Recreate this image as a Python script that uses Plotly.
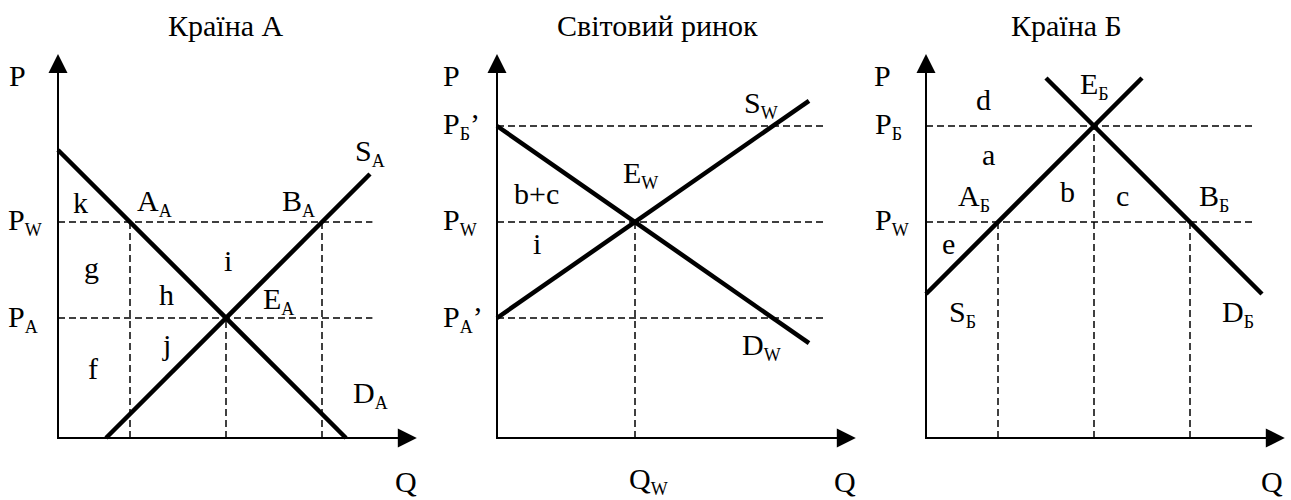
import plotly.graph_objects as go

# ---- дані (умовні одиниці Q / P) ----
# Країна А
a_demand_q = [0, 12]
a_demand_p = [12, 0]
a_supply_q = [2, 13]
a_supply_p = [0, 11]
a_price_levels = [9, 5]        # Pw, PA
a_price_end = 13.1
a_qty_marks = [3, 7, 11]       # AA, EA, BA
a_qty_tops = [9, 5, 9]

# Світовий ринок
w_demand_q = [0, 13]
w_demand_p = [13, 3.95]
w_supply_q = [0, 13]
w_supply_p = [5, 14.05]
w_price_levels = [13, 9, 5]    # PБ', Pw, PA'
w_price_end = 13.7
w_qty_marks = [5.75]           # Qw
w_qty_tops = [9]

# Країна Б
b_supply_q = [0, 9]
b_supply_p = [6, 15]
b_demand_q = [5, 14]
b_demand_p = [15, 6]
b_price_levels = [13, 9]       # PБ, Pw
b_price_end = 13.7
b_qty_marks = [3, 7, 11]
b_qty_tops = [9, 13, 9]

titles = ["Країна А", "Світовий ринок", "Країна Б"]


def s(t):  # нижній індекс
    return "<sub><span style='font-size:18px'>" + t + "</span></sub>"


# підписи: текст, Q, P
a_labels = [("P", -1.7, 15.1), ("k", 0.92, 9.8), ("A" + s("A"), 4.0, 9.8),
            ("B" + s("A"), 10.0, 9.8), ("S" + s("A"), 13.0, 11.9),
            ("g", 1.4, 7.1), ("i", 7.1, 7.4), ("h", 4.5, 6.0),
            ("E" + s("A"), 9.2, 5.75), ("j", 4.5, 3.9), ("f", 1.46, 2.9),
            ("D" + s("A"), 13.0, 1.8), ("Q", 14.5, -1.8)]
a_axis_labels = [("P" + s("W"), 9), ("P" + s("A"), 5)]

w_labels = [("P", -1.9, 15.1), ("S" + s("W"), 11.0, 13.9), ("E" + s("W"), 5.96, 10.96),
            ("b+c", 1.63, 10.2), ("i", 1.67, 8.1), ("D" + s("W"), 11.0, 3.83),
            ("Q" + s("W"), 6.3, -1.75), ("Q", 14.5, -1.8)]
w_axis_labels = [("P" + s("Б") + "’", 13), ("P" + s("W"), 9), ("P" + s("A") + "’", 5)]

b_labels = [("P", -1.8, 15.1), ("d", 2.4, 14.1), ("E" + s("Б"), 7.0, 14.7),
            ("a", 2.6, 11.8), ("A" + s("Б"), 2.0, 10.0), ("b", 5.9, 10.25),
            ("c", 8.2, 10.1), ("B" + s("Б"), 12.0, 10.0), ("e", 0.92, 8.1),
            ("S" + s("Б"), 1.5, 5.2), ("D" + s("Б"), 13.0, 5.2), ("Q", 14.4, -1.8)]
b_axis_labels = [("P" + s("Б"), 13), ("P" + s("W"), 9)]

# ---- розміщення ----
W, H = 1291, 500
UNIT = 24                      # пікселів на одиницю
ORIGIN_Y = 438
origins_x = [58, 497, 926]
label_left = [6, 441, 873]     # лівий край підписів на осі P
title_x = [226, 657, 1066]
XR = [-2.4, 15.1]
YR = [-2.5, 16.5]
FONT = "Liberation Serif"
FS = 30

fig = go.Figure()

panels = [
    (a_demand_q, a_demand_p, a_supply_q, a_supply_p, a_price_levels, a_price_end,
     a_qty_marks, a_qty_tops, a_labels, a_axis_labels),
    (w_demand_q, w_demand_p, w_supply_q, w_supply_p, w_price_levels, w_price_end,
     w_qty_marks, w_qty_tops, w_labels, w_axis_labels),
    (b_demand_q, b_demand_p, b_supply_q, b_supply_p, b_price_levels, b_price_end,
     b_qty_marks, b_qty_tops, b_labels, b_axis_labels),
]

dash_line = dict(color="black", width=1.5, dash="7px,4px")
thick = dict(color="black", width=4.5)
axis_line = dict(color="black", width=2)

for i, (dq, dp, sq, sp, levels, pend, qm, qt, labels, axlabels) in enumerate(panels):
    n = i + 1
    xa = "x" if n == 1 else "x%d" % n
    ya = "y" if n == 1 else "y%d" % n

    # пунктир
    for lv in levels:
        fig.add_trace(go.Scatter(x=[0, pend], y=[lv, lv], mode="lines", line=dash_line,
                                 xaxis=xa, yaxis=ya, hoverinfo="skip", showlegend=False))
    for q, top in zip(qm, qt):
        fig.add_trace(go.Scatter(x=[q, q], y=[0, top], mode="lines", line=dash_line,
                                 xaxis=xa, yaxis=ya, hoverinfo="skip", showlegend=False))

    # осі
    fig.add_trace(go.Scatter(x=[0, 0, 14.3], y=[15.3, 0, 0], mode="lines", line=axis_line,
                             xaxis=xa, yaxis=ya, hoverinfo="skip", showlegend=False))
    fig.add_annotation(x=0, y=16, ax=0, ay=15, xref=xa, yref=ya, axref=xa, ayref=ya,
                       showarrow=True, arrowhead=2, arrowsize=1.9, arrowwidth=2,
                       arrowcolor="black", text="")
    fig.add_annotation(x=14.95, y=0, ax=14, ay=0, xref=xa, yref=ya, axref=xa, ayref=ya,
                       showarrow=True, arrowhead=2, arrowsize=1.9, arrowwidth=2,
                       arrowcolor="black", text="")

    # попит і пропозиція
    fig.add_trace(go.Scatter(x=dq, y=dp, mode="lines", line=thick, xaxis=xa, yaxis=ya,
                             hoverinfo="skip", showlegend=False))
    fig.add_trace(go.Scatter(x=sq, y=sp, mode="lines", line=thick, xaxis=xa, yaxis=ya,
                             hoverinfo="skip", showlegend=False))

    for txt, q, p in labels:
        fig.add_annotation(x=q, y=p, xref=xa, yref=ya, text=txt, showarrow=False,
                           xanchor="center", yanchor="middle",
                           font=dict(family=FONT, size=FS, color="black"))
    lq = (label_left[i] - origins_x[i]) / UNIT
    for txt, p in axlabels:
        fig.add_annotation(x=lq, y=p, xref=xa, yref=ya, text=txt, showarrow=False,
                           xanchor="left", yanchor="middle",
                           font=dict(family=FONT, size=FS, color="black"))

    fig.add_annotation(x=title_x[i] / W, y=1 - 25 / H, xref="paper", yref="paper",
                       text=titles[i], showarrow=False, xanchor="center", yanchor="middle",
                       font=dict(family=FONT, size=FS, color="black"))

    x0 = origins_x[i] + XR[0] * UNIT
    x1 = origins_x[i] + XR[1] * UNIT
    y0 = ORIGIN_Y - YR[0] * UNIT
    y1 = ORIGIN_Y - YR[1] * UNIT
    ax_key = "xaxis" if n == 1 else "xaxis%d" % n
    ay_key = "yaxis" if n == 1 else "yaxis%d" % n
    fig.update_layout(**{
        ax_key: dict(domain=[max(x0 / W, 0), min(x1 / W, 1)], range=XR, visible=False,
                     anchor=ya, fixedrange=True),
        ay_key: dict(domain=[1 - y0 / H, 1 - y1 / H], range=YR, visible=False,
                     anchor=xa, fixedrange=True),
    })

fig.update_layout(width=W, height=H, margin=dict(l=0, r=0, t=0, b=0),
                  paper_bgcolor="white", plot_bgcolor="white", showlegend=False)

fig.write_html("out.html", config={"displayModeBar": False},
               post_script="document.body.style.margin='0';")
